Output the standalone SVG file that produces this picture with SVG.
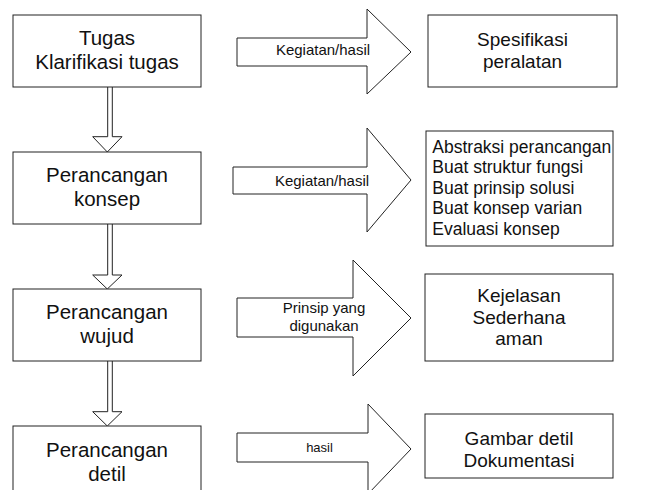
<svg xmlns="http://www.w3.org/2000/svg" width="645" height="490" viewBox="0 0 645 490">
<style>
.box{fill:#fff;stroke:#222;stroke-width:1}
.arr{fill:#fff;stroke:#222;stroke-width:1;stroke-linejoin:miter}
text{font-family:"Liberation Sans",Arial,sans-serif;fill:#111}
.t1{font-size:20.5px;text-anchor:middle}
.t2{font-size:19px;text-anchor:middle}
.t3{font-size:17.5px}
.t4{font-size:15px;text-anchor:middle}
</style>
<rect width="645" height="490" fill="#fff"/>
<g id="connectors">
<path class="arr" d="M107.7,87 V136.7 H92.7 L107.3,152 L122,136.7 H112.3 V87"/>
<path class="arr" d="M107.7,224 V275 H92.7 L107.3,289 L122,275 H112.3 V224"/>
<path class="arr" d="M107.7,361 V411.7 H92.7 L107.3,426 L122,411.7 H112.3 V361"/>
<g id="arrow1"><path class="arr" d="M237,38 H367 V9 L411,52 L367,94 V66 H237 Z"/><text class="t4" x="323" y="55">Kegiatan/hasil</text></g>
<g id="arrow2"><path class="arr" d="M233,167 H367 V128 L411,180 L367,232 V194 H233 Z"/><text class="t4" x="322" y="186">Kegiatan/hasil</text></g>
<g id="arrow3"><path class="arr" d="M237,298 H353 V260 L411,318 L353,376 V337 H237 Z"/><text class="t4" x="324" y="313">Prinsip yang</text><text class="t4" x="324" y="331">digunakan</text></g>
<g id="arrow4"><path class="arr" d="M237,433 H368 V404 L411,449 L368,494 V462 H237 Z"/><text class="t4" x="319.5" y="452" style="font-size:13px">hasil</text></g>
</g>
<g id="tugas"><rect class="box" x="13" y="15" width="188" height="72"/><text class="t1" x="107" y="45">Tugas</text><text class="t1" x="107" y="68.5">Klarifikasi tugas</text></g>
<g id="konsep"><rect class="box" x="13" y="152" width="188" height="72"/><text class="t1" x="107" y="181.5">Perancangan</text><text class="t1" x="107" y="205.5">konsep</text></g>
<g id="wujud"><rect class="box" x="13" y="289" width="188" height="72"/><text class="t1" x="107" y="319">Perancangan</text><text class="t1" x="107" y="343">wujud</text></g>
<g id="detil"><rect class="box" x="13" y="426" width="188" height="80"/><text class="t1" x="107" y="456.5">Perancangan</text><text class="t1" x="107" y="480.5">detil</text></g>
<g id="spesifikasi"><rect class="box" x="428" y="15" width="189" height="72"/><text class="t2" x="522.5" y="46">Spesifikasi</text><text class="t2" x="522.5" y="67.5">peralatan</text></g>
<g id="abstraksi"><rect class="box" x="426" y="131" width="187" height="115"/>
<text class="t3" x="432.3" y="152.5">Abstraksi perancangan</text>
<text class="t3" x="432.3" y="173">Buat struktur fungsi</text>
<text class="t3" x="432.3" y="193.5">Buat prinsip solusi</text>
<text class="t3" x="432.3" y="214">Buat konsep varian</text>
<text class="t3" x="432.3" y="234.5">Evaluasi konsep</text></g>
<g id="kejelasan"><rect class="box" x="425" y="274" width="188" height="87"/><text class="t2" x="519" y="301.5">Kejelasan</text><text class="t2" x="519" y="323.5">Sederhana</text><text class="t2" x="519" y="345">aman</text></g>
<g id="gambar"><rect class="box" x="425" y="414" width="188" height="64"/><text class="t2" x="519" y="445">Gambar detil</text><text class="t2" x="519" y="466.5">Dokumentasi</text></g>
</svg>
